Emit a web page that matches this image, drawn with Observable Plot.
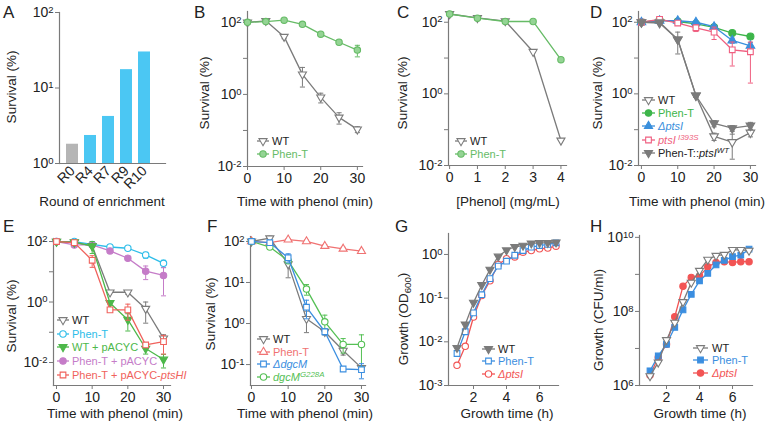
<!DOCTYPE html>
<html><head><meta charset="utf-8">
<script src="https://cdn.jsdelivr.net/npm/d3@7"></script>
<script src="https://cdn.jsdelivr.net/npm/@observablehq/plot@0.6"></script>
<style>
body{margin:0;background:#fff;}
#root{position:relative;width:766px;height:424px;overflow:hidden;font-family:"Liberation Sans",Arial,sans-serif;background:#fff;}
</style></head><body><div id="root"></div>
<script>
// ---------------- DATA ----------------
// A
const roundsA = ["R0","R4","R7","R9","R10"];
const survivalA = [1.8, 2.35, 4.2, 17.5, 30];
// B
const timeMin = [0,5,10,15,20,25,30];
const wtB = [100, 110, 40, 3.6, 0.83, 0.23, 0.107];
const wtBErr = [0, 12, 5, 2.0, 0.25, 0.08, 0.02];
const phenB = [100, 105, 115, 88, 47, 28, 17];
const phenBErr = [0, 5, 5, 6, 4, 4, 6];
// C
const phenolConc = [0,1,2,3,4];
const wtC = [170, 132, 108, 15, 0.05];
const phenC = [170, 130, 105, 105, 9];
// D
const wtD = [100, 100, 33, 0.9, 0.065, 0.045, 0.083];
const wtDErr = [0, 0, 0, 0.1, 0.015, 0.03, 0.02];
const phenD = [100, 115, 105, 90, 72, 50, 40];
const phenDErr = [0, 5, 5, 5, 8, 6, 5];
const ptsID = [100, 110, 110, 100, 75, 31, 22];
const ptsIDErr = [0, 5, 5, 5, 8, 5, 5];
const i393sD = [100, 120, 95, 70, 53, 17, 15];
const i393sDErr = [0, 5, 8, 15, 20, 11, 13];
const compD = [100, 95, 33, 0.9, 0.15, 0.11, 0.13];
const compDErr = [0, 5, 20, 0.1, 0.03, 0.02, 0.03];
// E
const wtE = [100, 93, 72, 2.1, 2.1, 0.6, 0.063];
const wtEErr = [0, 0, 0, 0, 0.3, 0.4, 0.02];
const phenE = [100, 100, 80, 66, 60, 36, 19];
const phenEErr = [0, 0, 0, 0, 5, 8, 5];
const wtPacycE = [100, 95, 70, 0.93, 0.26, 0.029, 0.0126];
const wtPacycEErr = [0, 0, 30, 0, 0.15, 0.01, 0.006];
const phenPacycE = [100, 77, 77, 49, 28, 10.5, 7.6];
const phenPacycEErr = [0, 10, 0, 0, 4, 5, 6];
const phenPtsHIE = [100, 92, 24, 0.55, 0.55, 0.038, 0.049];
const phenPtsHIEErr = [0, 0, 10, 0, 0.3, 0, 0.03];
// F
const wtF = [100, 120, 28, 1.3, 0.63, 0.22, 0.083];
const wtFErr = [0, 15, 15, 0.7, 0.1, 0.05, 0.01];
const phenF = [100, 93, 110, 100, 77, 66, 58];
const phenFErr = [0, 0, 8, 8, 6, 6, 6];
const dgcMF = [100, 93, 40, 2.5, 0.63, 0.078, 0.075];
const dgcMFErr = [0, 10, 10, 1.2, 0.1, 0, 0.03];
const g228aF = [100, 73, 34, 6.9, 1.1, 0.31, 0.31];
const g228aFErr = [0, 8, 5, 2, 0.5, 0.12, 0.22];
// G
const growthHours = [1,1.5,2,2.5,3,3.5,4,4.5,5,5.5,6,6.5,7];
const wtG = [0.0073, 0.025, 0.079, 0.2, 0.45, 0.9, 1.25, 1.5, 1.6, 1.8, 1.85, 1.85, 1.9];
const phenG = [0.0054, 0.017, 0.046, 0.12, 0.28, 0.54, 0.7, 0.96, 1.23, 1.47, 1.6, 1.7, 1.85];
const ptsIG = [0.0029, 0.0079, 0.037, 0.115, 0.25, 0.59, 0.8, 0.88, 1.13, 1.23, 1.35, 1.4, 1.55];
// H
const wtH = [1.8e6, 4.2e6, 1.7e7, 5e7, 1.8e8, 6e8, 1.26e9, 2.5e9, 3.2e9, 3.4e9, 4.6e9, 4.6e9, 4.4e9];
const phenH = [2.5e6, 6.3e6, 1.3e7, 3.7e7, 1.1e8, 2.9e8, 6.7e8, 1.07e9, 1.8e9, 2.4e9, 3e9, 3.3e9, 4.8e9];
const ptsIH = [1.9e6, 5.7e6, 1.3e7, 7.2e7, 4.8e8, 8.3e8, 9e8, 1.6e9, 2.1e9, 2.2e9, 2.1e9, 2.2e9, 2.2e9];

// ---------------- STYLE ----------------
const FONT = '"Liberation Sans", Arial, sans-serif';
const GRAY = "#7b7b7b", AXIS = "#7a7a7a", INK = "#222";
const GREEN_L = "#66bb66", GREEN_F = "#94d494";
const GREEN = "#3db54a", BLUE = "#3a8fdc", PINK = "#ef5f80";
const CYAN = "#2dbde9", GREEN2 = "#4db84a", PURPLE = "#c57cc8", RED = "#f0625c";
const RED_F = "#f07272", BLUE_F = "#3b8ee0", GREEN_F2 = "#55c055";
const RED_G = "#f25454";
const BAR_GRAY = "#b5b5b5", BAR_BLUE = "#4bc7f3";
const TICK_FS = 14;

const triDown = {draw(ctx, size){ const y = -Math.sqrt(size/(Math.sqrt(3)*3)); ctx.moveTo(0, -y*2); ctx.lineTo(-Math.sqrt(3)*y, y); ctx.lineTo(Math.sqrt(3)*y, y); ctx.closePath(); }};
const triUp = d3.symbolTriangle, circ = d3.symbolCircle, sq = d3.symbolSquare;
const capSym = {draw(ctx, size){ const w = Math.sqrt(size)*0.9; ctx.moveTo(-w,0); ctx.lineTo(w,0); }};

const root = document.getElementById("root");

function series(xs, ys, es, st) {
  const d = xs.map((x,i)=>({x, y: ys[i], e: es ? es[i] : 0}));
  const eb = d.filter(v=>v.e>0).map(v=>({x:v.x, lo: Math.max(v.y - v.e, v.y*0.02), hi: v.y + v.e}));
  const r = st.r || (st.symbol===triDown || st.symbol===triUp ? 3.0 : 3.2);
  return [
    Plot.ruleX(eb, {x:"x", y1:"lo", y2:"hi", stroke: st.color, strokeWidth: 1}),
    Plot.dot(eb, {x:"x", y:"lo", symbol: capSym, r: 1.6, stroke: st.color, strokeWidth: 1}),
    Plot.dot(eb, {x:"x", y:"hi", symbol: capSym, r: 1.6, stroke: st.color, strokeWidth: 1}),
    Plot.line(d, {x:"x", y:"y", stroke: st.color, strokeWidth: 1.3}),
    Plot.dot(d, {x:"x", y:"y", symbol: st.symbol, r, fill: st.fill, stroke: st.color, strokeWidth: 1.1})
  ];
}

function logTicks(e0, e1, labeled) {
  const ticks = d3.range(e0, e1+1).map(e => Math.pow(10, e));
  const fmt = d => { const e = Math.round(Math.log10(d)); return labeled.includes(e) ? "10^" + e : ""; };
  return {ticks, fmt};
}

const intFmt = d => String(d);

function axes(xTicks, yTicks) {
  return [
    Plot.frame({anchor: "left", stroke: AXIS, strokeWidth: 1.2}),
    Plot.frame({anchor: "bottom", stroke: AXIS, strokeWidth: 1.2}),
    Plot.axisX({ticks: xTicks, tickFormat: intFmt, tickSize: 4, tickPadding: 3, fontSize: TICK_FS, stroke: AXIS, label: null}),
    Plot.axisY({ticks: yTicks.ticks, tickFormat: yTicks.fmt, tickSize: 4, tickPadding: 2, fontSize: TICK_FS, stroke: AXIS, label: null})
  ];
}

function fixText(svg) {
  d3.select(svg).selectAll("text").style("font-size", TICK_FS + "px").style("font-family", FONT);
  d3.select(svg).selectAll("text").each(function(){
    const t = this.textContent;
    if (t && t.includes("^")) {
      const [b, e] = t.split("^");
      const s = d3.select(this);
      s.text(b);
      s.append("tspan").attr("dy", "-0.45em").style("font-size", "9.5px").text(e);
    }
  });
}

function panel(box, x, y, marks) {
  const mL = 48, mR = 10, mT = 8, mB = 34;
  const w = box.R - box.L, h = box.B - box.T;
  const svg = Plot.plot({
    width: mL + w + mR, height: mT + h + mB,
    marginLeft: mL, marginRight: mR, marginTop: mT, marginBottom: mB,
    style: {background: "transparent", fontFamily: FONT, fontSize: TICK_FS + "px", color: INK, overflow: "visible"},
    x, y, marks
  });
  svg.style.position = "absolute";
  svg.style.left = (box.L - mL) + "px";
  svg.style.top = (box.T - mT) + "px";
  fixText(svg);
  root.appendChild(svg);
}

const L = e => Math.pow(10, e);
const surv = logTicks(-2, 2, [-2, 0, 2]);

// A
panel({L:59, R:165, T:12, B:163},
  {type: "band", domain: roundsA, paddingInner: 0.35, paddingOuter: 0.54, align: 0.3},
  {type: "log", domain: [1, 100]},
  [
    Plot.barY(roundsA.map((r,i)=>({round: r, s: survivalA[i], i})), {x: "round", y1: () => 1, y2: "s", fill: d => d.i === 0 ? BAR_GRAY : BAR_BLUE}),
    Plot.frame({anchor: "left", stroke: AXIS, strokeWidth: 1.2}),
    Plot.frame({anchor: "bottom", stroke: AXIS, strokeWidth: 1.2}),
    Plot.axisX({tickRotate: -45, tickSize: 0, tickPadding: 5, fontSize: TICK_FS, label: null}),
    Plot.axisY({ticks: [1,10,100], tickFormat: d => "10^" + Math.round(Math.log10(d)), tickSize: 4, tickPadding: 2, fontSize: TICK_FS, stroke: AXIS, label: null})
  ]);

// B
panel({L:247, R:362, T:11, B:166},
  {domain: [0, 31.4]}, {type: "log", domain: [0.01, L(2.3)]},
  [
    ...axes([0,10,20,30], surv),
    ...series(timeMin, wtB, wtBErr, {color: GRAY, fill: "white", symbol: triDown}),
    ...series(timeMin, phenB, phenBErr, {color: GREEN_L, fill: GREEN_F, symbol: circ})
  ]);

// C
panel({L:448, R:566, T:11, B:165},
  {domain: [-0.04, 4.2]}, {type: "log", domain: [0.01, L(2.3)]},
  [
    ...axes([0,1,2,3,4], surv),
    ...series(phenolConc, wtC, null, {color: GRAY, fill: "white", symbol: triDown}),
    ...series(phenolConc, phenC, null, {color: GREEN_L, fill: GREEN_F, symbol: circ})
  ]);

// D
panel({L:638, R:755, T:11, B:165},
  {domain: [-0.8, 31.4]}, {type: "log", domain: [0.01, L(2.3)]},
  [
    ...axes([0,10,20,30], surv),
    ...series(timeMin, phenD, phenDErr, {color: GREEN, fill: GREEN, symbol: circ, r: 3.5}),
    ...series(timeMin, ptsID, ptsIDErr, {color: BLUE, fill: BLUE, symbol: triUp, r: 3.2}),
    ...series(timeMin, i393sD, i393sDErr, {color: PINK, fill: "white", symbol: sq}),
    ...series(timeMin, wtD, wtDErr, {color: GRAY, fill: "white", symbol: triDown, r: 3.2}),
    ...series(timeMin, compD, compDErr, {color: GRAY, fill: GRAY, symbol: triDown, r: 3.2})
  ]);

// E
panel({L:53, R:170, T:238, B:385},
  {domain: [-0.84, 31.96]}, {type: "log", domain: [L(-2.76), L(2.1)]},
  [
    ...axes([0,10,20,30], surv),
    ...series(timeMin, phenE, phenEErr, {color: CYAN, fill: "white", symbol: circ}),
    ...series(timeMin, phenPacycE, phenPacycEErr, {color: PURPLE, fill: PURPLE, symbol: circ}),
    ...series(timeMin, wtE, wtEErr, {color: GRAY, fill: "white", symbol: triDown}),
    ...series(timeMin, wtPacycE, wtPacycEErr, {color: GREEN2, fill: GREEN2, symbol: triDown}),
    ...series(timeMin, phenPtsHIE, phenPtsHIEErr, {color: RED, fill: "white", symbol: sq})
  ]);

// F
panel({L:250, R:365, T:236, B:385},
  {domain: [-0.27, 31.1]}, {type: "log", domain: [L(-1.51), L(2.12)]},
  [
    ...axes([0,10,20,30], logTicks(-1, 2, [-1,0,1,2])),
    ...series(timeMin, phenF, phenFErr, {color: RED_F, fill: "white", symbol: triUp}),
    ...series(timeMin, wtF, wtFErr, {color: GRAY, fill: "white", symbol: triDown}),
    ...series(timeMin, g228aF, g228aFErr, {color: GREEN_F2, fill: "white", symbol: circ}),
    ...series(timeMin, dgcMF, dgcMFErr, {color: BLUE_F, fill: "white", symbol: sq})
  ]);

// G
panel({L:448, R:558, T:233, B:385},
  {domain: [0.485, 7.15]}, {type: "log", domain: [0.001, L(0.48)]},
  [
    ...axes([2,4,6], logTicks(-3, 0, [-3,-2,-1,0])),
    ...series(growthHours, ptsIG, null, {color: RED_G, fill: "white", symbol: circ}),
    ...series(growthHours, phenG, null, {color: BLUE_F, fill: "white", symbol: sq}),
    ...series(growthHours, wtG, null, {color: GRAY, fill: GRAY, symbol: triDown})
  ]);

// H
panel({L:639, R:752, T:235, B:385},
  {domain: [0.364, 7.21]}, {type: "log", domain: [1e6, L(10.05)]},
  [
    ...axes([2,4,6], logTicks(6, 10, [6,8,10])),
    ...series(growthHours, ptsIH, null, {color: RED_G, fill: RED_G, symbol: circ}),
    ...series(growthHours, phenH, null, {color: BLUE_F, fill: BLUE_F, symbol: sq}),
    ...series(growthHours, wtH, null, {color: GRAY, fill: "white", symbol: triDown})
  ]);

// ---------------- OVERLAY TEXT ----------------
const ov = d3.select(root).append("svg").attr("width", 766).attr("height", 424)
  .style("position", "absolute").style("left", "0px").style("top", "0px")
  .style("font-family", FONT).style("pointer-events", "none");

function rich(t, parts) {
  (Array.isArray(parts) ? parts : [parts]).forEach(p => {
    const [s, f] = Array.isArray(p) ? p : [p, ""];
    const ts = t.append("tspan").text(s);
    if (f.includes("i")) ts.attr("font-style", "italic");
    if (f.includes("s")) ts.attr("dy", "-0.45em").attr("font-size", "0.72em");
    if (f.includes("b")) ts.attr("dy", "0.3em").attr("font-size", "0.72em");
    if (f.includes("u")) ts.attr("dy", "-0.3em");
  });
}

[["A",3,18],["B",194,18],["C",397,18],["D",590,18],["E",3,232],["F",207,232],["G",395,232],["H",590,232]]
  .forEach(([s,x,y]) => ov.append("text").attr("x", x).attr("y", y).attr("font-size", 17).attr("fill", INK).text(s));

function ylab(parts, cx, cy) {
  const t = ov.append("text").attr("transform", `translate(${cx},${cy}) rotate(-90)`)
    .attr("text-anchor", "middle").attr("dy", "0.35em").attr("font-size", 13.5).attr("fill", INK);
  rich(t, parts);
}
function xlab(parts, cx, y) {
  const t = ov.append("text").attr("x", cx).attr("y", y).attr("text-anchor", "middle").attr("font-size", 13.5).attr("fill", INK);
  rich(t, parts);
}
ylab("Survival (%)", 11, 87);
ylab("Survival (%)", 204, 93);
ylab("Survival (%)", 402, 93);
ylab("Survival (%)", 597, 93);
ylab("Survival (%)", 11, 316);
ylab("Survival (%)", 210, 314);
ylab(["Growth (OD", ["600","b"], [")","u"]], 403, 319);
ylab("Growth (CFU/ml)", 598, 320);

xlab("Round of enrichment", 102, 206);
xlab("Time with phenol (min)", 305, 206);
xlab("[Phenol] (mg/mL)", 508, 206);
xlab("Time with phenol (min)", 697, 206);
xlab("Time with phenol (min)", 115, 418);
xlab("Time with phenol (min)", 305, 418);
xlab("Growth time (h)", 507, 418);
xlab("Growth time (h)", 700, 418);

function legend(items, x0, x1, tx, ys) {
  items.forEach((it, i) => {
    const y = ys[i];
    ov.append("line").attr("x1", x0).attr("x2", x1).attr("y1", y).attr("y2", y).attr("stroke", it.color).attr("stroke-width", 1.3);
    const r = it.symbol === triDown || it.symbol === triUp ? 3.0 : 3.2;
    ov.append("path").attr("d", d3.symbol(it.symbol, Math.PI*r*r)()).attr("transform", `translate(${(x0+x1)/2},${y})`)
      .attr("fill", it.fill).attr("stroke", it.color).attr("stroke-width", 1.1);
    const t = ov.append("text").attr("x", tx).attr("y", y).attr("dy", "0.35em").attr("font-size", 11).attr("fill", it.tc);
    rich(t, it.label);
  });
}

const wtOpen = {label: "WT", color: GRAY, fill: "white", symbol: triDown, tc: INK};
legend([wtOpen, {label: "Phen-T", color: GREEN_L, fill: GREEN_F, symbol: circ, tc: GREEN_L}], 257, 269, 272, [141, 154]);
legend([wtOpen, {label: "Phen-T", color: GREEN_L, fill: GREEN_F, symbol: circ, tc: GREEN_L}], 455, 467, 470, [141, 154]);
legend([
  wtOpen,
  {label: "Phen-T", color: GREEN, fill: GREEN, symbol: circ, tc: GREEN},
  {label: [["ΔptsI","i"]], color: BLUE, fill: BLUE, symbol: triUp, tc: BLUE},
  {label: [["ptsI","i"], [" I393S","is"]], color: PINK, fill: "white", symbol: sq, tc: PINK},
  {label: ["Phen-T::", ["ptsI","i"], ["WT","is"]], color: GRAY, fill: GRAY, symbol: triDown, tc: INK}
], 642, 655, 658, [100, 113, 126, 140, 153]);
legend([
  wtOpen,
  {label: "Phen-T", color: CYAN, fill: "white", symbol: circ, tc: CYAN},
  {label: "WT + pACYC", color: GREEN2, fill: GREEN2, symbol: triDown, tc: GREEN2},
  {label: "Phen-T + pACYC", color: PURPLE, fill: PURPLE, symbol: circ, tc: PURPLE},
  {label: ["Phen-T + pACYC-", ["ptsHI","i"]], color: RED, fill: "white", symbol: sq, tc: RED}
], 57, 69, 72, [320, 334, 347, 361, 375]);
legend([
  wtOpen,
  {label: "Phen-T", color: RED_F, fill: "white", symbol: triUp, tc: RED_F},
  {label: [["ΔdgcM","i"]], color: BLUE_F, fill: "white", symbol: sq, tc: BLUE_F},
  {label: [["dgcM","i"], ["G228A","is"]], color: GREEN_F2, fill: "white", symbol: circ, tc: GREEN_F2}
], 257, 270, 273, [339, 352, 364, 377]);
legend([
  {label: "WT", color: GRAY, fill: GRAY, symbol: triDown, tc: INK},
  {label: "Phen-T", color: BLUE_F, fill: "white", symbol: sq, tc: BLUE_F},
  {label: [["ΔptsI","i"]], color: RED_G, fill: "white", symbol: circ, tc: RED_G}
], 482, 495, 498, [349, 361, 374]);
legend([
  wtOpen,
  {label: "Phen-T", color: BLUE_F, fill: BLUE_F, symbol: sq, tc: BLUE_F},
  {label: [["ΔptsI","i"]], color: RED_G, fill: RED_G, symbol: circ, tc: RED_G}
], 693, 708, 712, [348, 360, 373]);
</script></body></html>
